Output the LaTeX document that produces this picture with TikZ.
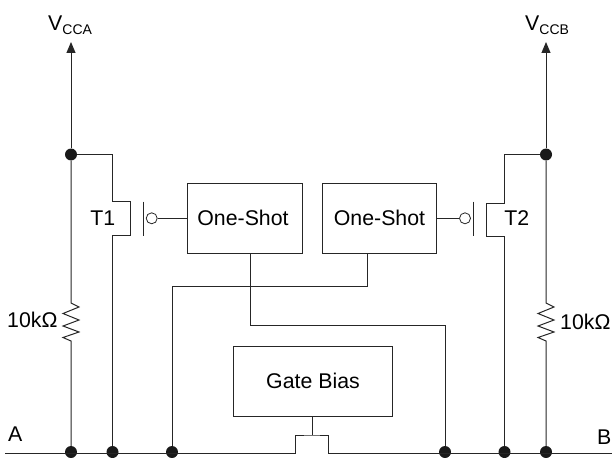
\documentclass[tikz,border=0pt]{standalone}
\usepackage{fontspec}
\setmainfont{Liberation Sans}
\usetikzlibrary{calc}
\usetikzlibrary{arrows.meta}
\tikzset{
  wire/.style={line width=1pt,draw=black!85},
  blockbox/.style={draw=black!85,line width=1pt,inner sep=0pt,minimum width=114.5pt,minimum height=70pt,font=\fontsize{21.3}{21}\selectfont},
  junction/.style={circle,fill=black!90,inner sep=0pt,minimum size=12pt},
  bubble/.style={circle,draw=black!85,line width=0.8pt,fill=white,inner sep=0pt,minimum size=11pt},
  lbl/.style={inner sep=0pt,font=\fontsize{21.3}{21}\selectfont},
}
\newcommand{\subtxt}[1]{{\fontsize{14}{14}\selectfont #1}}
\begin{document}
\begin{tikzpicture}[x=1pt,y=-1pt]
\useasboundingbox (0,0) rectangle (612,457);
\node[blockbox] (shotA) at (245,218) {\hspace*{-4pt}One-Shot}; %one-shot blocks
\node[blockbox] (shotB) at (379.5,218) {One-Shot};
\node[blockbox,minimum width=159pt] (bias) at (313,381) {Gate Bias}; %gate bias
\node[junction] (vA) at (71,154.5) {}; %top junctions
\node[junction] (vB) at (546,154.5) {};
\node[junction] (railA) at (71,452) {}; %rail junctions
\node[junction] (railT1) at (112.5,452) {};
\node[junction] (railS2) at (172,452) {};
\node[junction] (railS1) at (445,452) {};
\node[junction] (railT2) at (504.5,452) {};
\node[junction] (railB) at (546,452) {};
\node[bubble] (gateA) at (151.7,218.3) {}; %gate bubbles
\node[bubble] (gateB) at (465,218.3) {};
\coordinate (topA) at (71,42);
\coordinate (topB) at (546,42);
\coordinate (endA) at (5,453);
\coordinate (endB) at (612,453);
\coordinate (barA) at (143.3,218.5);
\coordinate (barB) at (473.3,218.5);
\coordinate (outA) at (250,253);
\coordinate (outB) at (367,253);
\draw[wire,-{Stealth[length=11pt,width=9pt,inset=0pt]}] (vA) -- (topA); %supply A
\draw[wire,-{Stealth[length=11pt,width=9pt,inset=0pt]}] (vB) -- (topB); %supply B
\draw[wire] (vA) -- (71,303) -- (79,307) -- (63,313.5) -- (79,320) -- (63,326) -- (79,332) -- (63,337.5) -- (71,341) -- (railA); %pull-up A
\draw[wire] (vB) -- (546,303) -- (554,307) -- (538,313.5) -- (554,320) -- (538,326) -- (554,332) -- (538,337.5) -- (546,341) -- (railB); %pull-up B
\draw[wire] (vA) -| (112.5,201.7) -| (130.3,235) -| (railT1); %T1
\draw[wire] (vB) -| (504.7,203) -| (486.7,236) -| (railT2); %T2
\draw[wire] ($(barA)+(0,-17)$) -- ($(barA)+(0,17.5)$); %gate bars
\draw[wire] ($(barB)+(0,-17)$) -- ($(barB)+(0,17.5)$);
\draw[wire] (gateA) -- (gateA-|shotA.west);
\draw[wire] (gateB) -- (gateB-|shotB.east);
\draw[wire] (outA) |- (445,325) -- (railS1); %one-shot outputs
\draw[wire] (outB) |- (172,286) -- (railS2);
\draw[wire] (endA) -- (295.7,453) |- (312,435) -| (328.7,453) -- (endB); %pass gate
\draw[wire] (bias) ++(-1,35) -- (312,435);
\node[lbl,anchor=base west] (lVA) at (48,30.7) {V\raisebox{-4pt}{\subtxt{CCA}}};
\node[lbl,anchor=base west] (lVB) at (525,30.7) {V\raisebox{-4pt}{\subtxt{CCB}}};
\node[lbl] (lT1) at (102.7,218) {T1};
\node[lbl] (lT2) at (516.7,218) {T2};
\node[lbl,anchor=west] (lRA) at (7,320) {10kΩ};
\node[lbl,anchor=west] (lRB) at (560,322) {10kΩ};
\node[lbl,anchor=base west] (lA) at (8,441.7) {A};
\node[lbl,anchor=base west] (lB) at (597,444) {B};
\end{tikzpicture}
\end{document}
